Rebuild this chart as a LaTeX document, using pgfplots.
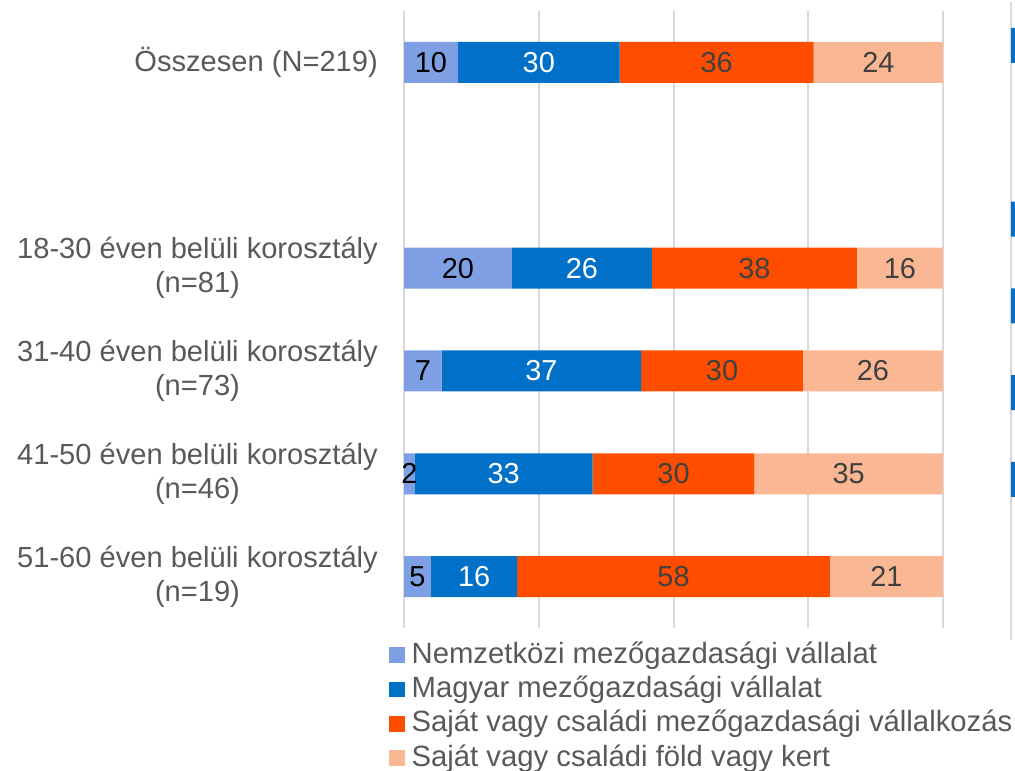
\documentclass[border=0pt]{standalone}
\usepackage{fontspec}
\setmainfont{Liberation Sans}
\usepackage{pgfplots}
\pgfplotsset{compat=1.18}
\definecolor{cA}{HTML}{7F9FE4}
\definecolor{cB}{HTML}{0070C8}
\definecolor{cC}{HTML}{FF4D00}
\definecolor{cD}{HTML}{FAB794}
\definecolor{txt}{HTML}{595959}
\definecolor{lbl}{HTML}{404040}
\definecolor{grd}{HTML}{D9D9D9}
\begin{document}
\begin{tikzpicture}[x=1bp,y=1bp]
\useasboundingbox (0,0) rectangle (1015,771);
\begin{axis}[
  at={(404bp,143bp)}, anchor=south west,
  scale only axis, width=539bp, height=617bp,
  xbar stacked, bar width=41bp,
  xmin=0, xmax=100, ymin=-0.5, ymax=5.5, y dir=reverse,
  xtick={0,25,50,75,100}, xticklabels={},
  xmajorgrids, grid style={grd, line width=2bp},
  ytick={0,2,3,4,5},
  yticklabels={{Összesen (N=219)},{18-30 éven belüli korosztály\\(n=81)},{31-40 éven belüli korosztály\\(n=73)},{41-50 éven belüli korosztály\\(n=46)},{51-60 éven belüli korosztály\\(n=19)}},
  yticklabel style={align=center, font=\fontsize{29.2}{34}\selectfont, text=txt, inner sep=0pt, xshift=-26bp},
  major tick length=0pt,
  axis line style={draw=none},
  point meta=rawx,
  nodes near coords={\pgfmathprintnumber[assume math mode=true]{\pgfplotspointmeta}},
  every node near coord/.append style={anchor=center, font=\fontsize{29}{34}\selectfont},
  legend style={at={(-0.028,-0.018)}, anchor=north west, draw=none, fill=none, inner sep=0pt,
    font=\fontsize{29.4}{33}\selectfont, text=txt, row sep=0pt,
    nodes={inner sep=3bp, text height=21bp, text depth=7.3bp},
    /tikz/every odd column/.append style={column sep=4bp}},
  legend cell align=left,
  legend image code/.code={\draw[#1,draw=none] (0bp,-6.5bp) rectangle (15.5bp,9bp);},
]
\addplot[fill=cA, draw=none, every node near coord/.append style={text=black}] coordinates {(10,0) (20,2) (7,3) (2,4) (5,5)};
\addplot[fill=cB, draw=none, every node near coord/.append style={text=white}] coordinates {(30,0) (26,2) (37,3) (33,4) (16,5)};
\addplot[fill=cC, draw=none, every node near coord/.append style={text=lbl}] coordinates {(36,0) (38,2) (30,3) (30,4) (58,5)};
\addplot[fill=cD, draw=none, every node near coord/.append style={text=lbl}] coordinates {(24,0) (16,2) (26,3) (35,4) (21,5)};
\legend{Nemzetközi mezőgazdasági vállalat, Magyar mezőgazdasági vállalat, Saját vagy családi mezőgazdasági vállalkozás, Saját vagy családi föld vagy kert}
\end{axis}
\begin{axis}[
  at={(1011bp,131bp)}, anchor=south west,
  scale only axis, width=20bp, height=637.9bp,
  xbar, bar width=35bp,
  xmin=0, xmax=10, ymin=-0.5, ymax=6.85, y dir=reverse,
  xtick={0}, xticklabels={}, ytick=\empty,
  xmajorgrids, grid style={grd, line width=2bp},
  axis line style={draw=none}, major tick length=0pt,
]
\addplot[fill=cB, draw=none] coordinates {(10,0) (10,2) (10,3) (10,4) (10,5)};
\end{axis}
\end{tikzpicture}
\end{document}
